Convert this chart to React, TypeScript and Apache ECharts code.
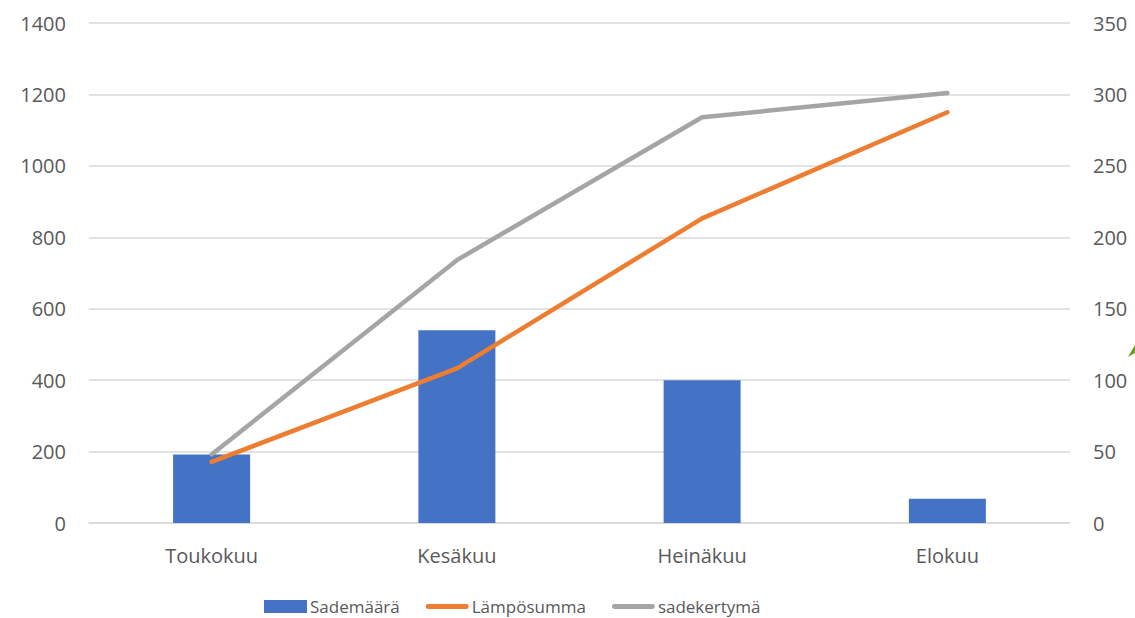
import React, { useEffect, useRef } from "react";
import * as echarts from "echarts";

const categories = ["Toukokuu", "Kesäkuu", "Heinäkuu", "Elokuu"];
const sademaara = [48, 135, 100, 17];
const lampOsumma = [171, 433, 853, 1150];
const sadekertyma = [48, 184, 284, 301];

const FONT = "'Open Sans', 'Noto Sans', sans-serif";
const TXT = "#595959";
const CAPSULE = "path://M2.5,0 L42.5,0 A2.5,2.5 0 0 1 42.5,5 L2.5,5 A2.5,2.5 0 0 1 2.5,0 Z";

export default function App() {
  const ref = useRef<HTMLDivElement>(null);
  useEffect(() => {
    document.body.style.margin = "0";
    const chart = echarts.init(ref.current!, null, { renderer: "svg" });
    chart.setOption({
      animation: false,
      backgroundColor: "#ffffff",
      textStyle: { fontFamily: FONT, color: TXT },
      grid: { left: 89, right: 65, top: 23, bottom: 95, containLabel: false },
      legend: {
        left: 264,
        top: 598,
        padding: 0,
        itemWidth: 43,
        itemHeight: 13,
        itemGap: 26,
        symbolKeepAspect: true,
        textStyle: { fontFamily: FONT, fontSize: 17, color: TXT, padding: [0, 0, 0, -2] },
        data: [
          { name: "Sademäärä", icon: "rect" },
          { name: "Lämpösumma", icon: CAPSULE },
          { name: "sadekertymä", icon: CAPSULE },
        ],
      },
      xAxis: {
        type: "category",
        data: categories,
        axisLine: { show: true, lineStyle: { color: "#d9d9d9", width: 1.5 } },
        axisTick: { show: false },
        axisLabel: { color: TXT, fontSize: 20, fontFamily: FONT, margin: 22 },
      },
      yAxis: [
        {
          type: "value",
          min: 0,
          max: 1400,
          interval: 200,
          axisLine: { show: false },
          axisTick: { show: false },
          axisLabel: {
            color: TXT,
            fontSize: 20,
            fontFamily: FONT,
            margin: 23,
            formatter: (v: number) => String(v),
          },
          splitLine: { lineStyle: { color: "#d9d9d9", width: 1.5 } },
        },
        {
          type: "value",
          min: 0,
          max: 350,
          interval: 50,
          position: "right",
          axisLine: { show: false },
          axisTick: { show: false },
          axisLabel: {
            color: TXT,
            fontSize: 20,
            fontFamily: FONT,
            margin: 23,
            formatter: (v: number) => String(v),
          },
          splitLine: { show: false },
        },
      ],
      series: [
        {
          name: "Sademäärä",
          type: "bar",
          yAxisIndex: 1,
          data: sademaara,
          barWidth: 77,
          itemStyle: { color: "#4472C4" },
        },
        {
          name: "Lämpösumma",
          type: "line",
          yAxisIndex: 0,
          data: lampOsumma,
          symbol: "none",
          lineStyle: { color: "#ED7D31", width: 4.5, cap: "round", join: "round" },
          itemStyle: { color: "#ED7D31" },
        },
        {
          name: "sadekertymä",
          type: "line",
          yAxisIndex: 1,
          data: sadekertyma,
          symbol: "none",
          lineStyle: { color: "#A5A5A5", width: 4.5, cap: "round", join: "round" },
          itemStyle: { color: "#A5A5A5" },
        },
      ],
      graphic: [
        {
          type: "polygon",
          shape: { points: [[1128, 357], [1135, 345], [1135, 353]] },
          style: { fill: "#6f9a22" },
        },
      ],
    });
    return () => chart.dispose();
  }, []);
  return (
    <div
      ref={ref}
      style={{ position: "fixed", left: 0, top: 0, width: 1135, height: 618 }}
    />
  );
}
